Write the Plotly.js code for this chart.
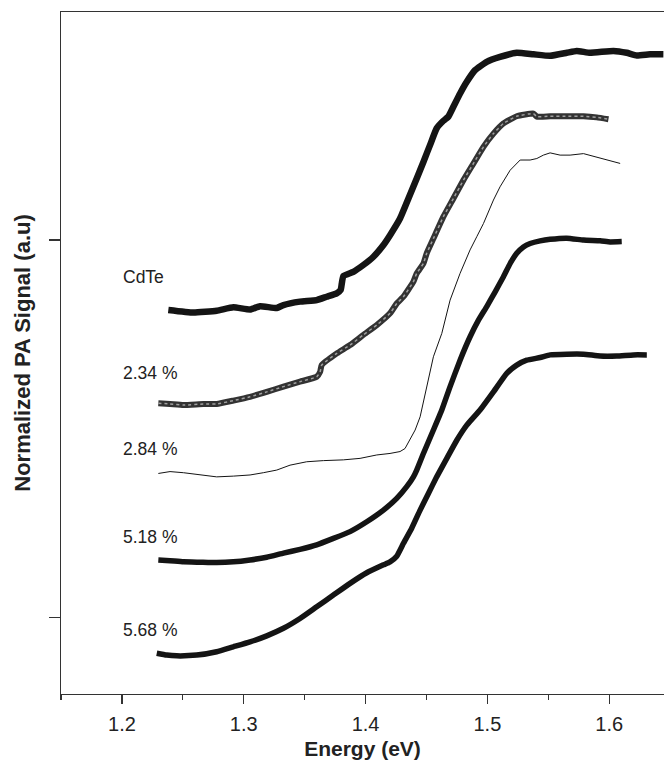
<!DOCTYPE html>
<html>
<head>
<meta charset="utf-8">
<script src="https://cdn.plot.ly/plotly-3.0.1.min.js"></script>
<style>html,body{margin:0;padding:0;background:#fff;}#chart{width:664px;height:763px;}</style>
</head>
<body>
<div id="chart"></div>
<script>
// Energy (eV) and normalized PA signal (a.u., curves offset vertically)
const cdteE = [1.2381,1.2587,1.2778,1.2915,1.3052,1.3134,1.3271,1.3326,1.3462,1.3599,1.3681,1.3763,1.3796,1.3805,1.3818,1.3900,1.3982,1.4065,1.4147,1.4201,1.4283,1.4352,1.4420,1.4475,1.4530,1.4584,1.4639,1.4680,1.4721,1.4776,1.4831,1.4899,1.4995,1.5104,1.5241,1.5378,1.5515,1.5652,1.5734,1.5843,1.6035,1.6144,1.6227,1.6336,1.6445];
const cdteY = [0.815,0.808,0.813,0.822,0.816,0.825,0.820,0.828,0.837,0.841,0.850,0.859,0.868,0.885,0.905,0.916,0.934,0.956,0.987,1.013,1.057,1.110,1.163,1.207,1.252,1.296,1.316,1.327,1.353,1.388,1.419,1.450,1.472,1.485,1.496,1.492,1.488,1.496,1.501,1.496,1.501,1.496,1.489,1.492,1.492];

const s234E = [1.2299,1.2395,1.2505,1.2669,1.2778,1.2915,1.3052,1.3189,1.3326,1.3462,1.3599,1.3627,1.3640,1.3764,1.3873,1.3982,1.4092,1.4201,1.4256,1.4311,1.4393,1.4420,1.4475,1.4502,1.4557,1.4639,1.4721,1.4804,1.4886,1.4968,1.5050,1.5132,1.5241,1.5378,1.5406,1.5515,1.5652,1.5789,1.5898,1.5994];
const s234Y = [0.568,0.566,0.563,0.566,0.566,0.575,0.585,0.598,0.612,0.625,0.638,0.651,0.669,0.700,0.722,0.749,0.775,0.806,0.832,0.850,0.890,0.912,0.938,0.965,1.004,1.062,1.110,1.159,1.203,1.247,1.282,1.309,1.328,1.335,1.327,1.328,1.328,1.328,1.325,1.320];

const s284E = [1.2299,1.2395,1.2505,1.2641,1.2778,1.2915,1.3052,1.3161,1.3271,1.3380,1.3517,1.3654,1.3818,1.3955,1.4092,1.4201,1.4283,1.4324,1.4365,1.4407,1.4448,1.4489,1.4557,1.4626,1.4694,1.4776,1.4858,1.4913,1.4968,1.5050,1.5104,1.5187,1.5269,1.5351,1.5406,1.5460,1.5515,1.5597,1.5679,1.5789,1.5871,1.5953,1.6021,1.6090];
const s284Y = [0.382,0.387,0.384,0.378,0.373,0.375,0.378,0.384,0.391,0.404,0.413,0.416,0.418,0.422,0.431,0.435,0.440,0.448,0.471,0.497,0.532,0.594,0.691,0.753,0.841,0.912,0.974,1.009,1.044,1.106,1.141,1.185,1.212,1.212,1.216,1.225,1.231,1.225,1.225,1.229,1.222,1.214,1.210,1.203];

const s518E = [1.2299,1.2395,1.2505,1.2641,1.2778,1.2915,1.3052,1.3189,1.3326,1.3462,1.3599,1.3736,1.3873,1.4010,1.4147,1.4256,1.4338,1.4393,1.4420,1.4475,1.4557,1.4626,1.4694,1.4776,1.4858,1.4927,1.4995,1.5064,1.5132,1.5187,1.5241,1.5296,1.5351,1.5433,1.5515,1.5652,1.5789,1.5926,1.6008,1.6103];
const s518Y = [0.153,0.151,0.148,0.147,0.146,0.148,0.153,0.160,0.171,0.181,0.193,0.210,0.228,0.254,0.285,0.316,0.347,0.373,0.391,0.435,0.497,0.550,0.612,0.682,0.744,0.788,0.824,0.863,0.903,0.938,0.965,0.982,0.991,0.998,1.002,1.005,1.000,0.998,0.995,0.996];

const s568E = [1.2286,1.2368,1.2450,1.2614,1.2778,1.2915,1.3052,1.3189,1.3326,1.3462,1.3599,1.3736,1.3873,1.4010,1.4147,1.4201,1.4256,1.4311,1.4379,1.4448,1.4516,1.4584,1.4667,1.4749,1.4831,1.4940,1.5050,1.5159,1.5241,1.5323,1.5433,1.5515,1.5652,1.5789,1.5926,1.6062,1.6199,1.6309];
const s568Y = [-0.094,-0.099,-0.101,-0.099,-0.090,-0.077,-0.064,-0.048,-0.028,-0.002,0.029,0.060,0.091,0.119,0.140,0.148,0.163,0.197,0.237,0.285,0.329,0.373,0.422,0.470,0.510,0.550,0.598,0.647,0.669,0.682,0.689,0.696,0.698,0.698,0.693,0.693,0.696,0.696];

const labelTexts = ["CdTe","2.34 %","2.84 %","5.18 %","5.68 %"];
const labelY = [0.903, 0.647, 0.446, 0.214, -0.033];
const labelX = 1.1995;

const xTicks = [1.2,1.3,1.4,1.5,1.6];
const xTickText = ["1.2","1.3","1.4","1.5","1.6"];

const ink = '#141414';
const fam = 'Liberation Sans, Arial, sans-serif';
const traces = [
  {x: cdteE, y: cdteY, mode:'lines', line:{color:ink, width:6.5, shape:'spline', smoothing:0.4}, hoverinfo:'skip'},
  {x: s234E, y: s234Y, mode:'lines', line:{color:'#333', width:6, shape:'spline', smoothing:0.4}, hoverinfo:'skip'},
  {x: s234E, y: s234Y, mode:'lines', line:{color:'#a0a0a0', width:1.5, dash:'dot', shape:'spline', smoothing:0.4}, hoverinfo:'skip'},
  {x: s284E, y: s284Y, mode:'lines', line:{color:ink, width:1}, hoverinfo:'skip'},
  {x: s518E, y: s518Y, mode:'lines', line:{color:ink, width:5.5, shape:'spline', smoothing:0.4}, hoverinfo:'skip'},
  {x: s568E, y: s568Y, mode:'lines', line:{color:ink, width:5.5, shape:'spline', smoothing:0.4}, hoverinfo:'skip'}
];

const annotations = labelTexts.map((t,i)=>({
  x: labelX, y: labelY[i], xref:'x', yref:'y', text:t, showarrow:false,
  xanchor:'left', yanchor:'middle', font:{family:fam, size:17.5, color:'#222'}
}));

const layout = {
  width:664, height:763,
  margin:{l:61, r:0, t:12, b:69, pad:0},
  paper_bgcolor:'#fff', plot_bgcolor:'#fff',
  showlegend:false,
  font:{family:fam, color:'#222'},
  xaxis:{
    range:[1.15, 1.645], showgrid:false, zeroline:false,
    showline:true, linecolor:'#333', linewidth:1.3, mirror:true,
    ticks:'outside', ticklen:9, tickwidth:1.2, tickcolor:'#333',
    tickvals:xTicks, ticktext:xTickText, ticklabelstandoff:3,
    tickfont:{family:fam, size:20, color:'#222'},
    minor:{dtick:0.05, tick0:1.15, ticks:'outside', ticklen:5, tickwidth:1.2, tickcolor:'#333', showgrid:false},
    title:{text:'<b>Energy (eV)</b>', font:{family:fam, size:21, color:'#222'}, standoff:7},
    automargin:false
  },
  yaxis:{
    range:[-0.202, 1.604], showgrid:false, zeroline:false,
    showline:true, linecolor:'#333', linewidth:1.3, mirror:false,
    ticks:'outside', ticklen:11, tickwidth:1.2, tickcolor:'#333',
    tickvals:[0,1], showticklabels:false,
    title:{text:'<b>Normalized PA Signal (a.u)</b>', font:{family:fam, size:22, color:'#222'}, standoff:12},
    automargin:false
  },
  annotations: annotations
};

Plotly.newPlot('chart', traces, layout, {staticPlot:true, displayModeBar:false});
</script>
</body>
</html>
